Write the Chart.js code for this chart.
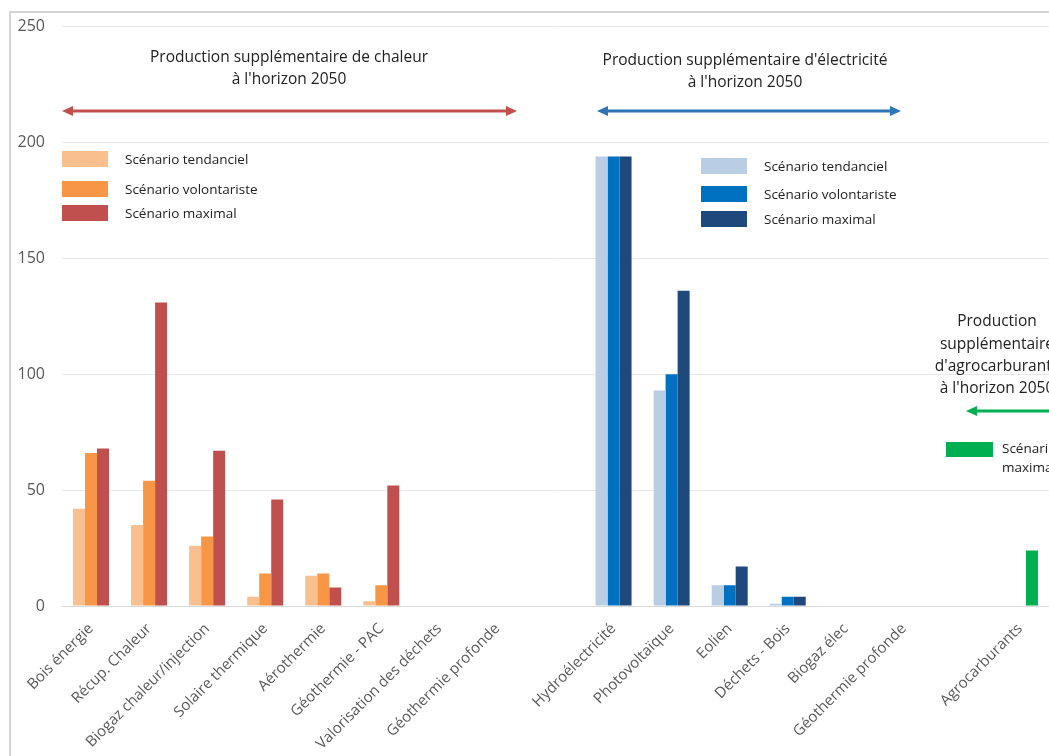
<!DOCTYPE html>
<html>
<head>
<meta charset="utf-8">
<script src="https://cdn.jsdelivr.net/npm/chart.js@4.4.1/dist/chart.umd.min.js"></script>
<style>
  html, body { margin: 0; padding: 0; background: #fff; overflow: hidden; }
  #wrap { position: relative; width: 1049px; height: 756px; }
</style>
</head>
<body>
<div id="wrap"><canvas id="chart" width="1049" height="756"></canvas></div>
<script>
// Données (GWh supplémentaires à l'horizon 2050)
const categories = [
  'Bois énergie', 'Récup. Chaleur', 'Biogaz chaleur/injection', 'Solaire thermique',
  'Aérothermie', 'Géothermie - PAC', 'Valorisation des déchets', 'Géothermie profonde',
  '',
  'Hydroélectricité', 'Photovoltaïque', 'Eolien', 'Déchets - Bois', 'Biogaz élec', 'Géothermie profonde',
  '',
  'Agrocarburants'
];
const groups = ['chaleur', 'chaleur', 'chaleur', 'chaleur', 'chaleur', 'chaleur', 'chaleur', 'chaleur',
  null, 'elec', 'elec', 'elec', 'elec', 'elec', 'elec', null, 'agro'];

const tendanciel   = [42, 35, 26, 4, 13, 2, 0, 0, null, 194, 93, 9, 1, 0, 0, null, 0];
const volontariste = [66, 54, 30, 14, 14, 9, 0, 0, null, 194, 100, 9, 4, 0, 0, null, 0];
const maximal      = [68, 131, 67, 46, 8, 52, 0, 0, null, 194, 136, 17, 4, 0, 0, null, 24];

const yTicks = [0, 50, 100, 150, 200, 250];

const couleurs = {
  chaleur: ['#f9bf8f', '#f79646', '#c0504d'],
  elec: ['#b9cde5', '#0070c0', '#1f497d'],
  agro: ['#00b050', '#00b050', '#00b050'],
};

function couleursSerie(i) {
  return groups.map(g => g ? couleurs[g][i] : 'transparent');
}

const FONT = '"Open Sans", "Liberation Sans", sans-serif';

function fleche(ctx, x1, x2, y, color, gauche, droite) {
  ctx.save();
  ctx.strokeStyle = color;
  ctx.fillStyle = color;
  ctx.lineWidth = 3;
  ctx.beginPath();
  ctx.moveTo(x1 + (gauche ? 8 : 0), y);
  ctx.lineTo(x2 - (droite ? 8 : 0), y);
  ctx.stroke();
  if (gauche) {
    ctx.beginPath();
    ctx.moveTo(x1, y);
    ctx.lineTo(x1 + 11, y - 5);
    ctx.lineTo(x1 + 11, y + 5);
    ctx.closePath();
    ctx.fill();
  }
  if (droite) {
    ctx.beginPath();
    ctx.moveTo(x2, y);
    ctx.lineTo(x2 - 11, y - 5);
    ctx.lineTo(x2 - 11, y + 5);
    ctx.closePath();
    ctx.fill();
  }
  ctx.restore();
}

function legende(ctx, x, rows, cols, labels) {
  rows.forEach((y, i) => {
    ctx.fillStyle = cols[i];
    ctx.fillRect(x, y - 8, 46, 16);
    ctx.fillStyle = '#222';
    ctx.font = '13.5px ' + FONT;
    ctx.textAlign = 'left';
    ctx.textBaseline = 'middle';
    ctx.fillText(labels[i], x + 63, y + 1);
  });
}

const annotations = {
  id: 'annotations',
  beforeDraw(chart) {
    const ctx = chart.ctx;
    ctx.save();
    ctx.strokeStyle = '#d4d4d4';
    ctx.lineWidth = 2;
    ctx.beginPath();
    ctx.moveTo(10, 756);
    ctx.lineTo(10, 12);
    ctx.lineTo(1049, 12);
    ctx.stroke();
    ctx.restore();
  },
  afterDraw(chart) {
    const ctx = chart.ctx;
    const labels = ['Scénario tendanciel', 'Scénario volontariste', 'Scénario maximal'];
    ctx.save();
    ctx.fillStyle = '#222';
    ctx.font = '15.5px ' + FONT;
    ctx.textAlign = 'center';
    ctx.textBaseline = 'middle';
    ctx.fillText('Production supplémentaire de chaleur', 289, 58);
    ctx.fillText("à l'horizon 2050", 289, 80);
    ctx.fillText("Production supplémentaire d'électricité", 745, 61);
    ctx.fillText("à l'horizon 2050", 745, 83);
    ctx.fillText('Production', 997, 322);
    ctx.fillText('supplémentaire', 997, 345);
    ctx.fillText("d'agrocarburants", 997, 367);
    ctx.fillText("à l'horizon 2050", 997, 389);

    fleche(ctx, 62, 517, 111, '#c0504d', true, true);
    fleche(ctx, 597, 901, 111, '#2e75b6', true, true);
    fleche(ctx, 966, 1060, 411, '#00b050', true, false);

    legende(ctx, 62, [159, 189, 213], couleurs.chaleur, labels);
    legende(ctx, 701, [166, 194, 219], couleurs.elec, labels);

    ctx.fillStyle = '#00b050';
    ctx.fillRect(946, 442, 47, 15);
    ctx.fillStyle = '#222';
    ctx.font = '13.5px ' + FONT;
    ctx.textAlign = 'left';
    ctx.fillText('Scénario', 1002, 449);
    ctx.fillText('maximal', 1002, 468);
    ctx.restore();
  }
};

new Chart(document.getElementById('chart'), {
  type: 'bar',
  data: {
    labels: categories,
    datasets: [
      { label: 'Scénario tendanciel', data: tendanciel, backgroundColor: couleursSerie(0) },
      { label: 'Scénario volontariste', data: volontariste, backgroundColor: couleursSerie(1) },
      { label: 'Scénario maximal', data: maximal, backgroundColor: couleursSerie(2) },
    ],
  },
  options: {
    responsive: false,
    animation: false,
    layout: { padding: { top: 25, right: 0, left: 0, bottom: 0 } },
    categoryPercentage: 0.62,
    barPercentage: 1.0,
    plugins: {
      legend: { display: false },
      tooltip: { enabled: false },
    },
    scales: {
      x: {
        grid: { display: false },
        border: { display: true, color: '#d9d9d9', width: 1 },
        ticks: {
          autoSkip: false,
          minRotation: 45,
          maxRotation: 45,
          padding: 6,
          color: '#595959',
          font: { family: FONT, size: 15 },
        },
        afterFit(scale) { scale.height = 150; },
      },
      y: {
        min: 0,
        max: 250,
        afterBuildTicks(scale) { scale.ticks = yTicks.map(v => ({ value: v })); },
        grid: { color: '#e8e8e8', drawTicks: false },
        border: { display: false },
        ticks: {
          padding: 17,
          color: '#595959',
          font: { family: FONT, size: 16 },
        },
        afterFit(scale) { scale.width = 62; },
      },
    },
  },
  plugins: [annotations],
});
</script>
</body>
</html>
